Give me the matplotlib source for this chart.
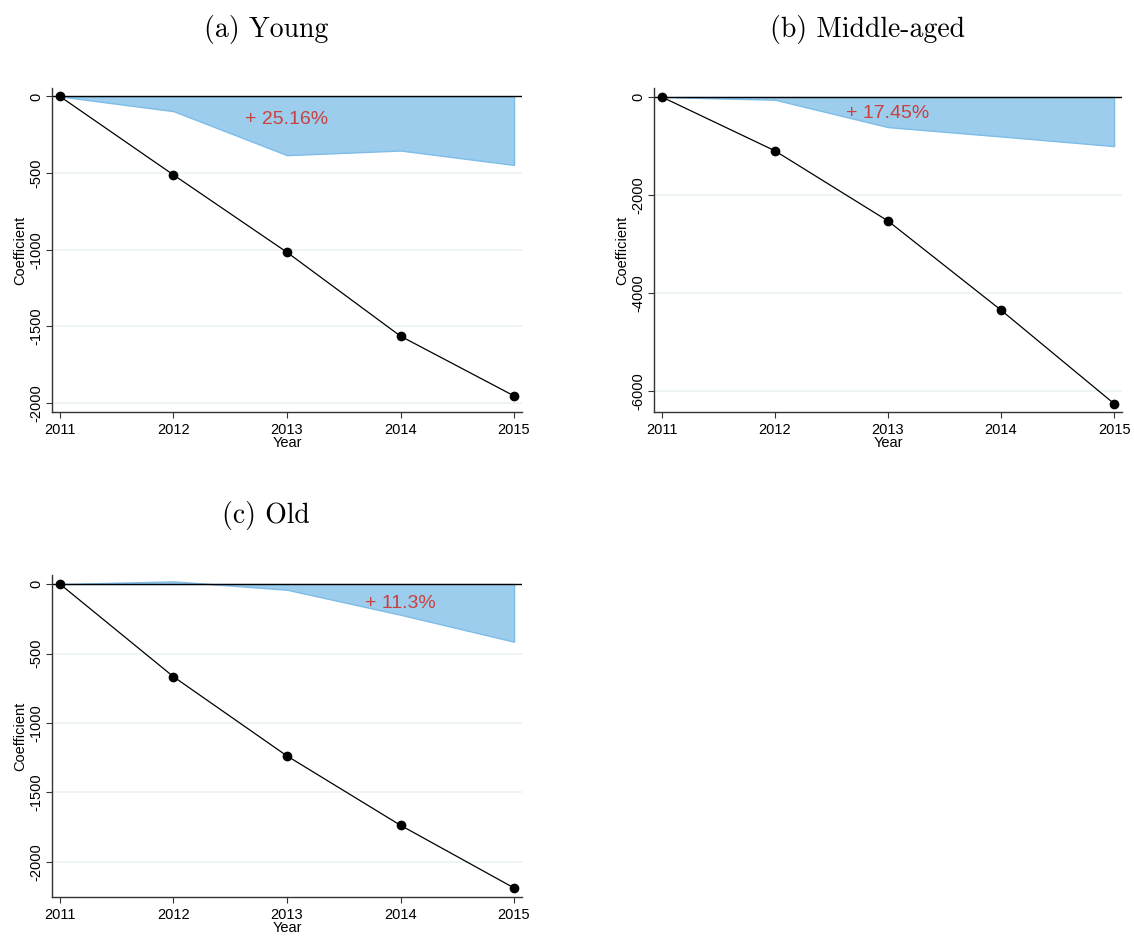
import matplotlib
matplotlib.use("Agg")
import matplotlib.pyplot as plt
import numpy as np

years = [2011, 2012, 2013, 2014, 2015]

young_coef = [0, -512, -1017, -1564, -1954]
young_fill = [0, -96, -383, -353, -447]
young_label = "+ 25.16%"

middle_coef = [0, -1098, -2530, -4350, -6259]
middle_fill = [0, -55, -614, -805, -1002]
middle_label = "+ 17.45%"

old_coef = [0, -667, -1237, -1736, -2187]
old_fill = [0, 19, -41, -221, -415]
old_label = "+ 11.3%"

titles = ["(a) Young", "(b) Middle-aged", "(c) Old"]

W, H = 1134, 936
fig = plt.figure(figsize=(W / 100, H / 100), dpi=100)
plt.rcParams['font.family'] = ['Liberation Sans', 'DejaVu Sans']

def px_axes(l, r, t, b):
    return [l / W, 1 - b / H, (r - l) / W, (b - t) / H]

panels = [
    dict(rect=px_axes(52, 522, 88, 412), coef=young_coef, fill=young_fill,
         label=young_label, lx=2013, ly=-148, yticks=[0, -500, -1000, -1500, -2000],
         ylim=(-2059, 55), title=titles[0], tx=266, ty=30),
    dict(rect=px_axes(654, 1122, 88, 412), coef=middle_coef, fill=middle_fill,
         label=middle_label, lx=2013, ly=-327, yticks=[0, -2000, -4000, -6000],
         ylim=(-6429, 184), title=titles[1], tx=867, ty=30),
    dict(rect=px_axes(52, 522, 575, 897), coef=old_coef, fill=old_fill,
         label=old_label, lx=2014, ly=-137, yticks=[0, -500, -1000, -1500, -2000],
         ylim=(-2252, 65), title=titles[2], tx=266, ty=515),
]

for p in panels:
    ax = fig.add_axes(p["rect"])
    ax.set_xlim(2010.93, 2015.07)
    ax.set_ylim(*p["ylim"])
    for yt in p["yticks"]:
        if yt != 0:
            ax.axhline(yt, color="#EAF2F3", lw=1.2, zorder=0)
    ax.fill_between(years, 0, p["fill"], facecolor="#9DCDEC", edgecolor="#7DBDE8",
                    lw=1.0, zorder=1)
    ax.axhline(0, color="black", lw=1.0, zorder=2)
    ax.plot(years, p["coef"], color="black", lw=0.9, marker="o", markersize=6,
            zorder=3)
    ax.text(p["lx"], p["ly"], p["label"], color="#C8413F", fontsize=14,
            ha="center", va="center", zorder=4)
    ax.spines["top"].set_visible(False)
    ax.spines["right"].set_visible(False)
    for s in ("left", "bottom"):
        ax.spines[s].set_color("#333333")
        ax.spines[s].set_linewidth(1.0)
    ax.set_xticks(years)
    ax.set_xticklabels([str(y) for y in years], fontsize=10.5)
    ax.set_yticks(p["yticks"])
    ax.set_yticklabels([str(v) for v in p["yticks"]],
                       fontsize=10.5, rotation=90, va="center")
    ax.tick_params(axis="both", length=4, width=0.8, color="#333333")
    ax.tick_params(axis="x", pad=4)
    ax.tick_params(axis="y", pad=2)
    ax.set_xlabel("Year", fontsize=10.5, labelpad=-1)
    ax.set_ylabel("Coefficient", fontsize=10.5, labelpad=2)
    fig.text(p["tx"] / W, 1 - p["ty"] / H, p["title"], family="cmr10",
             fontsize=20, ha="center", va="center")

fig.savefig("out.png", dpi=100)
